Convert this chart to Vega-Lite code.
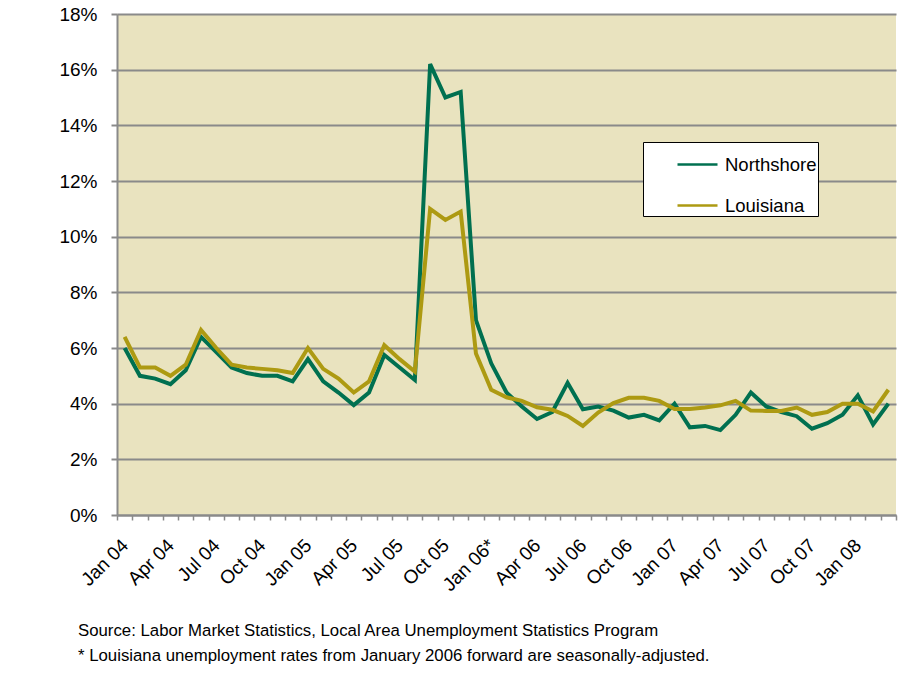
{
  "$schema": "https://vega.github.io/schema/vega-lite/v6.json",
  "width": 779,
  "height": 501,
  "autosize": "none",
  "padding": {"left": 117, "top": 14, "right": 27, "bottom": 162},
  "background": "white",
  "config": {
    "view": {"fill": "#E9E3BF", "stroke": null},
    "font": "Liberation Sans"
  },
  "title": {
    "text": ["Source:  Labor Market Statistics,  Local Area Unemployment Statistics Program", "* Louisiana unemployment rates from January 2006 forward are seasonally-adjusted."],
    "orient": "bottom",
    "anchor": "start",
    "frame": "group",
    "dx": -39,
    "offset": 28,
    "fontSize": 16.8,
    "fontWeight": "normal",
    "font": "Liberation Sans",
    "color": "black",
    "lineHeight": 25
  },
  "data": {
    "values": [
      {"month": "Jan 04", "series": "Northshore", "rate": 6.0},
      {"month": "Feb 04", "series": "Northshore", "rate": 5.0},
      {"month": "Mar 04", "series": "Northshore", "rate": 4.9},
      {"month": "Apr 04", "series": "Northshore", "rate": 4.7},
      {"month": "May 04", "series": "Northshore", "rate": 5.2},
      {"month": "Jun 04", "series": "Northshore", "rate": 6.4},
      {"month": "Jul 04", "series": "Northshore", "rate": 5.85},
      {"month": "Aug 04", "series": "Northshore", "rate": 5.3},
      {"month": "Sep 04", "series": "Northshore", "rate": 5.1},
      {"month": "Oct 04", "series": "Northshore", "rate": 5.0},
      {"month": "Nov 04", "series": "Northshore", "rate": 5.0},
      {"month": "Dec 04", "series": "Northshore", "rate": 4.8},
      {"month": "Jan 05", "series": "Northshore", "rate": 5.6},
      {"month": "Feb 05", "series": "Northshore", "rate": 4.8},
      {"month": "Mar 05", "series": "Northshore", "rate": 4.4},
      {"month": "Apr 05", "series": "Northshore", "rate": 3.95},
      {"month": "May 05", "series": "Northshore", "rate": 4.4},
      {"month": "Jun 05", "series": "Northshore", "rate": 5.75},
      {"month": "Jul 05", "series": "Northshore", "rate": 5.3},
      {"month": "Aug 05", "series": "Northshore", "rate": 4.85},
      {"month": "Sep 05", "series": "Northshore", "rate": 16.2},
      {"month": "Oct 05", "series": "Northshore", "rate": 15.0},
      {"month": "Nov 05", "series": "Northshore", "rate": 15.2},
      {"month": "Dec 05", "series": "Northshore", "rate": 7.0},
      {"month": "Jan 06*", "series": "Northshore", "rate": 5.45},
      {"month": "Feb 06", "series": "Northshore", "rate": 4.4},
      {"month": "Mar 06", "series": "Northshore", "rate": 3.9},
      {"month": "Apr 06", "series": "Northshore", "rate": 3.45},
      {"month": "May 06", "series": "Northshore", "rate": 3.7},
      {"month": "Jun 06", "series": "Northshore", "rate": 4.75},
      {"month": "Jul 06", "series": "Northshore", "rate": 3.8},
      {"month": "Aug 06", "series": "Northshore", "rate": 3.9},
      {"month": "Sep 06", "series": "Northshore", "rate": 3.75},
      {"month": "Oct 06", "series": "Northshore", "rate": 3.5},
      {"month": "Nov 06", "series": "Northshore", "rate": 3.6},
      {"month": "Dec 06", "series": "Northshore", "rate": 3.4},
      {"month": "Jan 07", "series": "Northshore", "rate": 4.0},
      {"month": "Feb 07", "series": "Northshore", "rate": 3.15},
      {"month": "Mar 07", "series": "Northshore", "rate": 3.2},
      {"month": "Apr 07", "series": "Northshore", "rate": 3.05},
      {"month": "May 07", "series": "Northshore", "rate": 3.6},
      {"month": "Jun 07", "series": "Northshore", "rate": 4.4},
      {"month": "Jul 07", "series": "Northshore", "rate": 3.9},
      {"month": "Aug 07", "series": "Northshore", "rate": 3.7},
      {"month": "Sep 07", "series": "Northshore", "rate": 3.55},
      {"month": "Oct 07", "series": "Northshore", "rate": 3.1},
      {"month": "Nov 07", "series": "Northshore", "rate": 3.3},
      {"month": "Dec 07", "series": "Northshore", "rate": 3.6},
      {"month": "Jan 08", "series": "Northshore", "rate": 4.3},
      {"month": "Feb 08", "series": "Northshore", "rate": 3.25},
      {"month": "Mar 08", "series": "Northshore", "rate": 4.0},
      {"month": "Jan 04", "series": "Louisiana", "rate": 6.4},
      {"month": "Feb 04", "series": "Louisiana", "rate": 5.3},
      {"month": "Mar 04", "series": "Louisiana", "rate": 5.3},
      {"month": "Apr 04", "series": "Louisiana", "rate": 5.0},
      {"month": "May 04", "series": "Louisiana", "rate": 5.4},
      {"month": "Jun 04", "series": "Louisiana", "rate": 6.65},
      {"month": "Jul 04", "series": "Louisiana", "rate": 6.0},
      {"month": "Aug 04", "series": "Louisiana", "rate": 5.4},
      {"month": "Sep 04", "series": "Louisiana", "rate": 5.3},
      {"month": "Oct 04", "series": "Louisiana", "rate": 5.25},
      {"month": "Nov 04", "series": "Louisiana", "rate": 5.2},
      {"month": "Dec 04", "series": "Louisiana", "rate": 5.1},
      {"month": "Jan 05", "series": "Louisiana", "rate": 6.0},
      {"month": "Feb 05", "series": "Louisiana", "rate": 5.25},
      {"month": "Mar 05", "series": "Louisiana", "rate": 4.9},
      {"month": "Apr 05", "series": "Louisiana", "rate": 4.4},
      {"month": "May 05", "series": "Louisiana", "rate": 4.8},
      {"month": "Jun 05", "series": "Louisiana", "rate": 6.1},
      {"month": "Jul 05", "series": "Louisiana", "rate": 5.6},
      {"month": "Aug 05", "series": "Louisiana", "rate": 5.15},
      {"month": "Sep 05", "series": "Louisiana", "rate": 11.0},
      {"month": "Oct 05", "series": "Louisiana", "rate": 10.6},
      {"month": "Nov 05", "series": "Louisiana", "rate": 10.9},
      {"month": "Dec 05", "series": "Louisiana", "rate": 5.8},
      {"month": "Jan 06*", "series": "Louisiana", "rate": 4.5},
      {"month": "Feb 06", "series": "Louisiana", "rate": 4.23},
      {"month": "Mar 06", "series": "Louisiana", "rate": 4.1},
      {"month": "Apr 06", "series": "Louisiana", "rate": 3.87},
      {"month": "May 06", "series": "Louisiana", "rate": 3.78},
      {"month": "Jun 06", "series": "Louisiana", "rate": 3.56},
      {"month": "Jul 06", "series": "Louisiana", "rate": 3.2},
      {"month": "Aug 06", "series": "Louisiana", "rate": 3.68},
      {"month": "Sep 06", "series": "Louisiana", "rate": 4.02},
      {"month": "Oct 06", "series": "Louisiana", "rate": 4.21},
      {"month": "Nov 06", "series": "Louisiana", "rate": 4.21},
      {"month": "Dec 06", "series": "Louisiana", "rate": 4.1},
      {"month": "Jan 07", "series": "Louisiana", "rate": 3.81},
      {"month": "Feb 07", "series": "Louisiana", "rate": 3.81},
      {"month": "Mar 07", "series": "Louisiana", "rate": 3.86},
      {"month": "Apr 07", "series": "Louisiana", "rate": 3.94},
      {"month": "May 07", "series": "Louisiana", "rate": 4.1},
      {"month": "Jun 07", "series": "Louisiana", "rate": 3.75},
      {"month": "Jul 07", "series": "Louisiana", "rate": 3.74},
      {"month": "Aug 07", "series": "Louisiana", "rate": 3.74},
      {"month": "Sep 07", "series": "Louisiana", "rate": 3.86},
      {"month": "Oct 07", "series": "Louisiana", "rate": 3.6},
      {"month": "Nov 07", "series": "Louisiana", "rate": 3.7},
      {"month": "Dec 07", "series": "Louisiana", "rate": 4.0},
      {"month": "Jan 08", "series": "Louisiana", "rate": 4.0},
      {"month": "Feb 08", "series": "Louisiana", "rate": 3.72},
      {"month": "Mar 08", "series": "Louisiana", "rate": 4.5}
    ]
  },
  "encoding": {
    "x": {
      "field": "month",
      "type": "ordinal",
      "sort": null,
      "scale": {"paddingInner": 0, "paddingOuter": 0},
      "axis": {
        "title": null,
        "labelAngle": -45,
        "labelAlign": "right",
        "labelBaseline": "middle",
        "labelFontSize": 19,
        "labelColor": "black",
        "labelPadding": 22,
        "labelOverlap": false,
        "labelExpr": "indexof(['Jan','Apr','Jul','Oct'], slice(datum.label, 0, 3)) >= 0 ? datum.label : ''",
        "tickBand": "extent",
        "tickSize": 5,
        "tickColor": "#8a8a8a",
        "tickWidth": 1.5,
        "domainColor": "#8a8a8a",
        "domainWidth": 2,
        "grid": false
      }
    },
    "y": {
      "field": "rate",
      "type": "quantitative",
      "scale": {"domain": [0, 18], "nice": false},
      "axis": {
        "title": null,
        "values": [0, 2, 4, 6, 8, 10, 12, 14, 16, 18],
        "labelExpr": "datum.value + '%'",
        "labelFontSize": 19,
        "labelColor": "black",
        "labelPadding": 14,
        "tickSize": 6,
        "tickColor": "#8a8a8a",
        "tickWidth": 2,
        "domainColor": "#8a8a8a",
        "domainWidth": 2,
        "grid": true,
        "gridColor": "#8a8a8a",
        "gridWidth": 2,
        "gridOpacity": 1
      }
    },
    "color": {
      "field": "series",
      "type": "nominal",
      "scale": {"domain": ["Northshore", "Louisiana"], "range": ["#007050", "#AD9A12"]},
      "legend": {
        "title": null,
        "orient": "none",
        "legendX": 526,
        "legendY": 128,
        "direction": "vertical",
        "fillColor": "white",
        "strokeColor": "black",
        "padding": 1,
        "symbolType": "stroke",
        "symbolSize": 1600,
        "symbolStrokeWidth": 2.5,
        "symbolOffset": 32,
        "labelFontSize": 18.5,
        "labelColor": "black",
        "labelOffset": 6,
        "rowPadding": 10
      }
    }
  },
  "layer": [
    {
      "transform": [{"filter": "datum.series == 'Northshore'"}],
      "mark": {"type": "line", "strokeWidth": 4, "strokeJoin": "miter"}
    },
    {
      "transform": [{"filter": "datum.series == 'Louisiana'"}],
      "mark": {"type": "line", "strokeWidth": 4, "strokeJoin": "miter"}
    }
  ]
}
